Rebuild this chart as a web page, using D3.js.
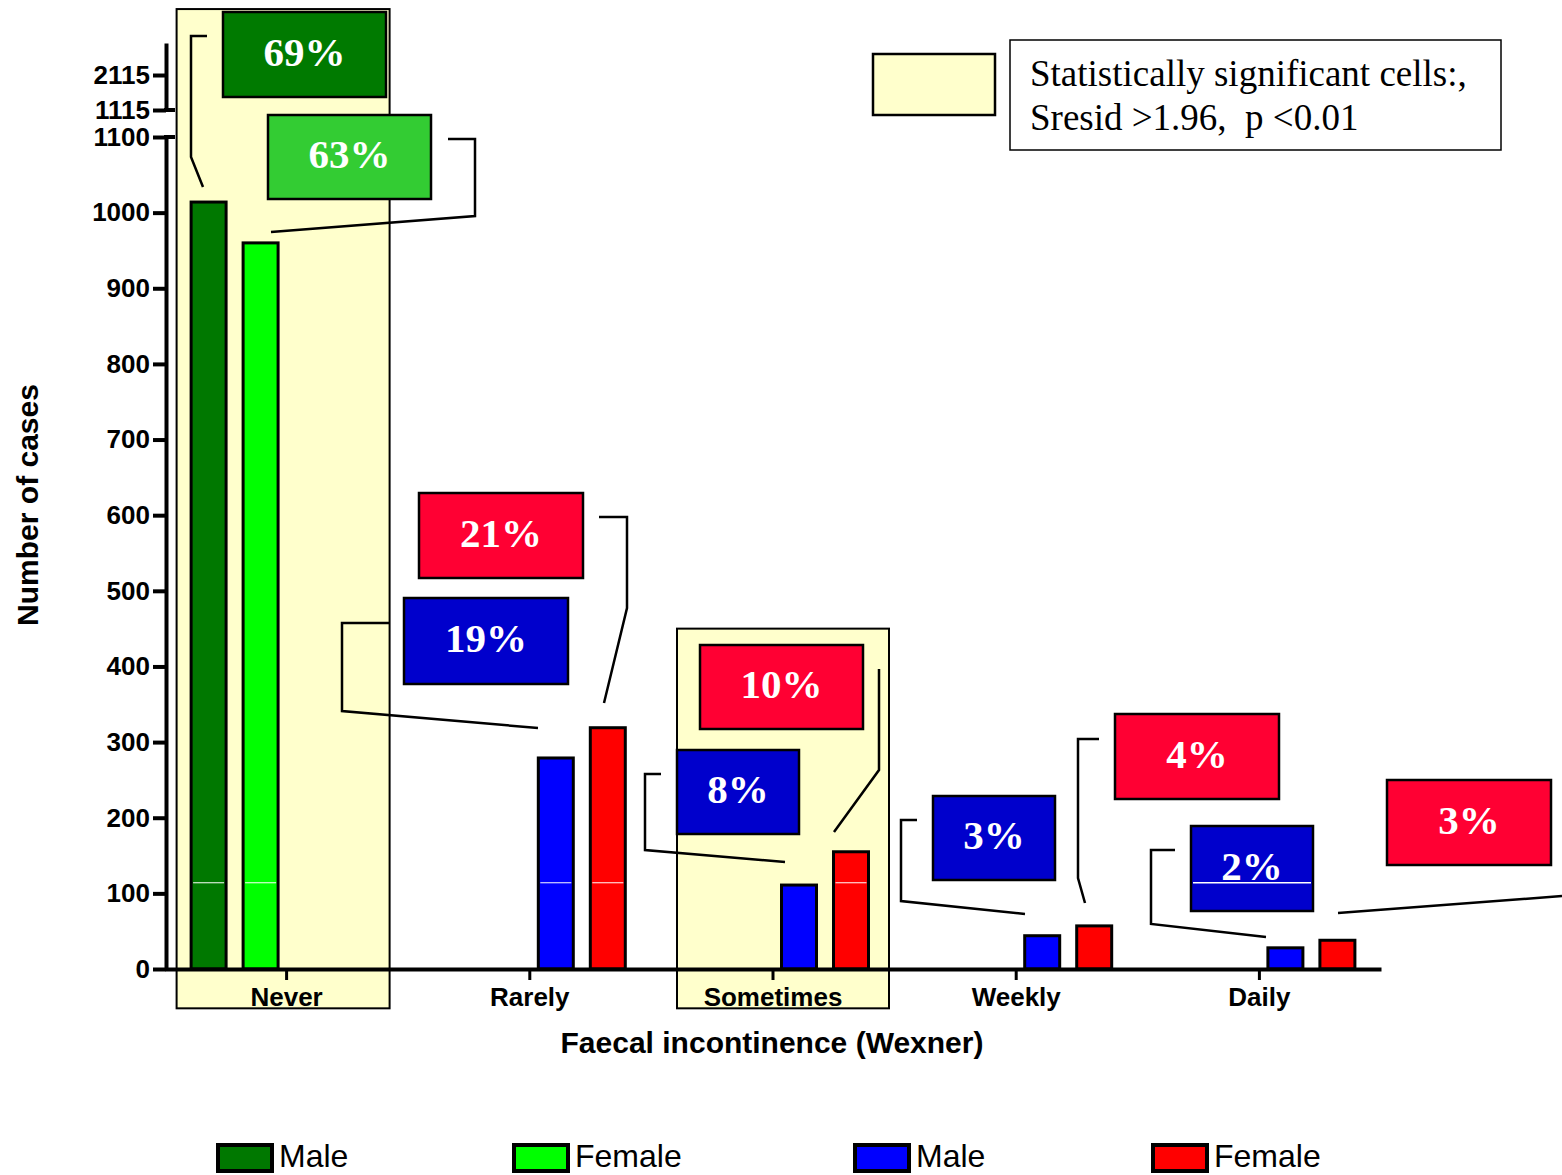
<!DOCTYPE html>
<html>
<head>
<meta charset="utf-8">
<script src="https://cdn.jsdelivr.net/npm/d3@7"></script>
<style>
  body { margin: 0; background: #fff; }
  svg { display: block; font-family: "Liberation Sans", Arial, sans-serif; }
  .tick text { font-weight: bold; font-size: 26px; fill: #000; }
  .pct { font-family: "Liberation Serif", "Times New Roman", serif; font-weight: bold; font-size: 41px; fill: #fff; }
</style>
</head>
<body>
<svg width="1562" height="1175"></svg>
<script>
var width = 1562, height = 1175;

// data
var categories = ['Never', 'Rarely', 'Sometimes', 'Weekly', 'Daily'];
var maleCounts = [1014, 279, 111, 44, 28];
var femaleCounts = [960, 319, 155, 57, 38];
var malePct = [69, 19, 8, 3, 2];
var femalePct = [63, 21, 10, 4, 3];
// Never is drawn with the green pair, the rest with blue / red
var colourSet = [0, 1, 1, 1, 1];
var seriesNames = ['Male', 'Female', 'Male', 'Female'];
var lowerTicks = [0, 100, 200, 300, 400, 500, 600, 700, 800, 900, 1000, 1100];
var upperTicks = [1115, 2115];
var significant = ['Never', 'Sometimes'];

var barColors = ['#007800', '#00ff00', '#0000ff', '#ff0000'];
var boxColors = ['#007a00', '#33cc33', '#0000cc', '#ff0033'];

var svg = d3.select('svg');

var x = d3.scaleBand().domain(categories).range([165, 1381]);
var x1 = d3.scaleBand().domain([0, 1, 2, 3]).range([-104, 104])
            .paddingInner(0.327).paddingOuter(0.1635);
var y = d3.scaleLinear().domain([0, 1100]).range([969, 137]);
var yTop = d3.scaleLinear().domain([1115, 3030]).range([110, 43]);

var bars = [];
categories.forEach(function(c, i){
    var s = colourSet[i] * 2;
    bars.push({cat: c, series: s, value: maleCounts[i], pct: malePct[i]});
    bars.push({cat: c, series: s + 1, value: femaleCounts[i], pct: femalePct[i]});
});

function barX(d){ return x(d.cat) + x.bandwidth() / 2 + x1(d.series); }

// significant cells highlight (behind everything)
var hl = {Never: {l: -110, r: 103, top: 4000, scale: 'top'}, Sometimes: {l: -96, r: 116, top: 450, scale: 'low'}};
svg.append('g').selectAll('rect')
    .data(significant)
    .enter()
    .append('rect')
        .attr('x', d => x(d) + x.bandwidth() / 2 + hl[d].l)
        .attr('width', d => hl[d].r - hl[d].l)
        .attr('y', d => hl[d].scale === 'top' ? yTop(hl[d].top) : y(hl[d].top))
        .attr('height', d => y(-52) - (hl[d].scale === 'top' ? yTop(hl[d].top) : y(hl[d].top)))
        .attr('fill', '#ffffcc')
        .attr('stroke', '#000')
        .attr('stroke-width', 2);

// bars
var barG = svg.append('g');
barG.selectAll('rect')
    .data(bars)
    .enter()
    .append('rect')
        .attr('x', barX)
        .attr('width', x1.bandwidth())
        .attr('y', d => y(d.value))
        .attr('height', d => y(0) - y(d.value))
        .attr('fill', d => barColors[d.series])
        .attr('stroke', '#000')
        .attr('stroke-width', 3);

// thin white artefact line seen inside the taller bars
barG.selectAll('line')
    .data(bars.filter(d => d.value > 114))
    .enter()
    .append('line')
        .attr('x1', d => barX(d) + 2)
        .attr('x2', d => barX(d) + x1.bandwidth() - 2)
        .attr('y1', y(114)).attr('y2', y(114))
        .attr('stroke', '#fff').attr('stroke-width', 1);

// axes
var fmt = d3.format('d');
var yAxisLow = d3.axisLeft(y).tickValues(lowerTicks).tickFormat(fmt).tickSize(13).tickSizeOuter(0).tickPadding(3);
var yAxisTop = d3.axisLeft(yTop).tickValues(upperTicks).tickFormat(fmt).tickSize(13).tickSizeOuter(0).tickPadding(3);

var gy = svg.append('g').attr('transform', 'translate(166,0)').call(yAxisLow);
var gyt = svg.append('g').attr('transform', 'translate(166,0)').call(yAxisTop);
[gy, gyt].forEach(function(g){
    g.select('.domain').attr('stroke-width', 4);
    g.selectAll('.tick line').attr('stroke-width', 4);
    g.selectAll('.tick text').attr('font-size', 25);
});
// break caps
svg.append('line').attr('x1', 164).attr('x2', 175).attr('y1', yTop(1115)).attr('y2', yTop(1115))
    .attr('stroke', '#000').attr('stroke-width', 4);
svg.append('line').attr('x1', 164).attr('x2', 175).attr('y1', y(1100)).attr('y2', y(1100))
    .attr('stroke', '#000').attr('stroke-width', 4);

var xAxis = d3.axisBottom(x).tickSizeInner(11).tickSizeOuter(0).tickPadding(8);
var gx = svg.append('g').attr('transform', 'translate(0,' + y(0) + ')').call(xAxis);
gx.select('.domain').attr('stroke-width', 4);
gx.selectAll('.tick line').attr('stroke-width', 3);
gx.selectAll('.tick text').attr('font-size', 26);

// axis titles
svg.append('text')
    .attr('transform', 'translate(38,505) rotate(-90)')
    .attr('text-anchor', 'middle')
    .attr('font-weight', 'bold')
    .attr('font-size', 30)
    .text('Number of cases');

svg.append('text')
    .attr('x', 772).attr('y', 1053)
    .attr('text-anchor', 'middle')
    .attr('font-weight', 'bold')
    .attr('font-size', 30)
    .text('Faecal incontinence (Wexner)');

// percentage call-outs: box [x, y, w, h] and leader line points
var callouts = [
    {cat: 'Never', series: 0, box: [223, 12, 163, 85], lead: [[207,36],[191,36],[191,157],[203,187]]},
    {cat: 'Never', series: 1, box: [268, 115, 163, 84], lead: [[448,139],[475,139],[475,216],[271,232]]},
    {cat: 'Rarely', series: 3, box: [419, 493, 164, 85], lead: [[599,517],[627,517],[627,608],[604,703]]},
    {cat: 'Rarely', series: 2, box: [404, 598, 164, 86], lead: [[389,623],[342,623],[342,711],[538,728]]},
    {cat: 'Sometimes', series: 3, box: [700, 645, 163, 84], lead: [[879,669],[879,770],[834,832]]},
    {cat: 'Sometimes', series: 2, box: [677, 750, 122, 84], lead: [[661,774],[645,774],[645,850],[785,862]]},
    {cat: 'Weekly', series: 2, box: [933, 796, 122, 84], lead: [[917,820],[901,820],[901,901],[1025,914]]},
    {cat: 'Weekly', series: 3, box: [1115, 714, 164, 85], lead: [[1099,739],[1078,739],[1078,878],[1085,903]]},
    {cat: 'Daily', series: 2, box: [1191, 826, 122, 85], lead: [[1175,850],[1151,850],[1151,924],[1266,937]]},
    {cat: 'Daily', series: 3, box: [1387, 780, 164, 85], lead: [[1338,913],[1562,896]]}
];
callouts.forEach(function(c){
    c.bar = bars.find(b => b.cat === c.cat && b.series === c.series);
});

var line = d3.line();
var cg = svg.append('g');
cg.selectAll('path')
    .data(callouts)
    .enter()
    .append('path')
        .attr('d', d => line(d.lead))
        .attr('fill', 'none')
        .attr('stroke', '#000')
        .attr('stroke-width', 2.5);

var boxes = cg.selectAll('g.box')
    .data(callouts)
    .enter()
    .append('g')
        .classed('box', true)
        .attr('transform', d => `translate(${d.box[0]},${d.box[1]})`);

boxes.append('rect')
    .attr('width', d => d.box[2])
    .attr('height', d => d.box[3])
    .attr('fill', d => boxColors[d.series])
    .attr('stroke', '#000')
    .attr('stroke-width', 2.5);

boxes.filter(d => d.box[1] < y(114) && d.box[1] + d.box[3] > y(114))
    .append('line')
        .attr('x1', 2).attr('x2', d => d.box[2] - 2)
        .attr('y1', d => y(114) - d.box[1]).attr('y2', d => y(114) - d.box[1])
        .attr('stroke', '#fff').attr('stroke-width', 1.5);

boxes.append('text')
    .classed('pct', true)
    .attr('x', d => d.box[2] / 2)
    .attr('y', d => d.box[3] / 2 + 11)
    .attr('text-anchor', 'middle')
    .text(d => d.bar.pct + '%');

// significance key
svg.append('rect')
    .attr('x', 873).attr('y', 54).attr('width', 122).attr('height', 61)
    .attr('fill', '#ffffcc').attr('stroke', '#000').attr('stroke-width', 2.5);
svg.append('rect')
    .attr('x', 1010).attr('y', 40).attr('width', 491).attr('height', 110)
    .attr('fill', '#fff').attr('stroke', '#000').attr('stroke-width', 1.5);
var key = svg.append('text')
    .attr('font-family', '"Liberation Serif", "Times New Roman", serif')
    .attr('font-size', 37);
key.append('tspan').attr('x', 1030).attr('y', 86).text('Statistically significant cells:,');
key.append('tspan').attr('x', 1030).attr('y', 130).text('Sresid >1.96,\u00a0 p <0.01');

// legend
var legendX = [218, 514, 855, 1153];
var leg = svg.append('g').selectAll('g')
    .data(seriesNames)
    .enter()
    .append('g')
        .attr('transform', (d, i) => `translate(${legendX[i]},1145)`);
leg.append('rect')
    .attr('width', 54).attr('height', 26)
    .attr('fill', (d, i) => barColors[i])
    .attr('stroke', '#000').attr('stroke-width', 4);
leg.append('text')
    .attr('x', 61).attr('y', 22)
    .attr('font-size', 32)
    .text(d => d);
</script>
</body>
</html>
